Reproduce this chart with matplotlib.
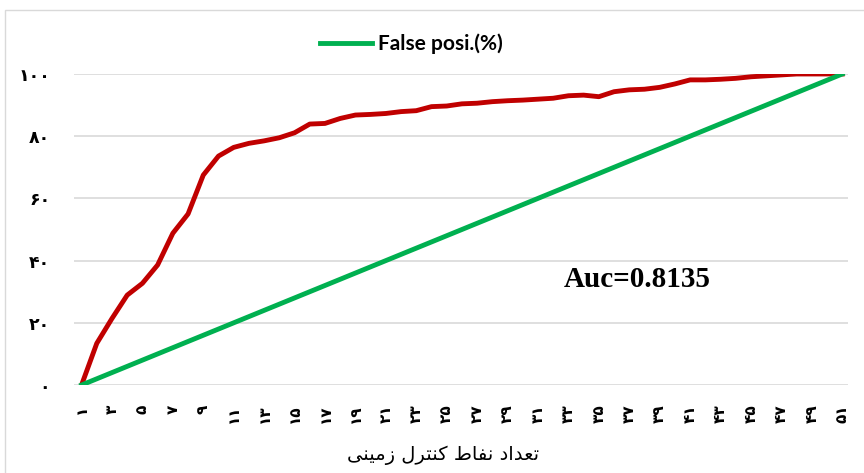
import matplotlib
matplotlib.use('Agg')
import matplotlib.pyplot as plt
from matplotlib.patches import Rectangle

# data
points = [1, 2, 3, 4, 5, 6, 7, 8, 9, 10, 11, 12, 13, 14, 15, 16, 17, 18, 19, 20,
          21, 22, 23, 24, 25, 26, 27, 28, 29, 30, 31, 32, 33, 34, 35, 36, 37, 38, 39, 40,
          41, 42, 43, 44, 45, 46, 47, 48, 49, 50, 51]
true_pos = [0, 13.4, 21.4, 28.9, 32.7, 38.6, 48.8, 55.0, 67.5, 73.6,
            76.4, 77.7, 78.5, 79.5, 81.1, 83.9, 84.1, 85.7, 86.8, 87.0,
            87.3, 87.9, 88.2, 89.5, 89.7, 90.4, 90.6, 91.1, 91.4, 91.6,
            91.9, 92.2, 93.0, 93.2, 92.7, 94.3, 94.9, 95.1, 95.7, 96.8,
            98.1, 98.1, 98.3, 98.6, 99.1, 99.4, 99.7, 100, 100, 100, 100]
false_pos = [0, 2, 4, 6, 8, 10, 12, 14, 16, 18, 20, 22, 24, 26, 28, 30, 32, 34, 36, 38,
             40, 42, 44, 46, 48, 50, 52, 54, 56, 58, 60, 62, 64, 66, 68, 70, 72, 74, 76, 78,
             80, 82, 84, 86, 88, 90, 92, 94, 96, 98, 100]

x_ticks = [1, 3, 5, 7, 9, 11, 13, 15, 17, 19, 21, 23, 25, 27, 29, 31, 33, 35, 37, 39,
           41, 43, 45, 47, 49, 51]
x_labels = ['۱', '۳', '۵', '۷', '۹', '۱۱', '۱۳', '۱۵', '۱۷', '۱۹', '۲۱', '۲۳', '۲۵',
            '۲۷', '۲۹', '۳۱', '۳۳', '۳۵', '۳۷', '۳۹', '۴۱', '۴۳', '۴۵', '۴۷', '۴۹', '۵۱']
y_ticks = [0, 20, 40, 60, 80, 100]
y_labels = ['۰', '۲۰', '۴۰', '۶۰', '۸۰', '۱۰۰']

# "تعداد نقاط کنترل زمینی" in presentation forms, reversed for left-to-right drawing
x_title = ('\uFE97\uFECC\uFEAA\uFE8D\uFEA9 \uFEE7\uFED4\uFE8E\uFEC1 '
           '\uFB90\uFEE8\uFE98\uFEAE\uFEDD \uFEAF\uFEE3\uFBFF\uFEE8\uFBFD')[::-1]

fig = plt.figure(figsize=(8.64, 4.73), dpi=100)
ax = fig.add_axes([0.0856, 0.186, 0.8954, 0.6576])

ax.plot(points, true_pos, color='#C00000', lw=3.5, solid_joinstyle='round')
ax.plot(points, false_pos, color='#00B050', lw=3.5, label='False posi.(%)')

ax.set_xlim(0.5, 51.35)
ax.set_ylim(0, 100)
ax.set_yticks(y_ticks)
ax.set_yticklabels(y_labels, fontsize=12.5, fontweight='bold', family=['DejaVu Sans'])
ax.set_xticks(x_ticks)
ax.set_xticklabels(x_labels, rotation=90, fontsize=11, fontweight='bold',
                   family=['DejaVu Sans'])
ax.tick_params(axis='both', length=0)
ax.tick_params(axis='x', pad=14)
ax.tick_params(axis='y', pad=17)
ax.grid(axis='y', color='#D9D9D9', lw=1.2)
ax.set_axisbelow(True)
for s in ax.spines.values():
    s.set_visible(False)

ax.set_xlabel(x_title, fontsize=14, family=['DejaVu Sans'])
ax.xaxis.set_label_coords(0.477, -0.195)

ax.text(37.5, 33.8, 'Auc=0.8135', fontsize=21, fontweight='bold',
        family=['Liberation Serif'], ha='center', va='center')

fig.legend(loc='center', bbox_to_anchor=(0.476, 0.907), frameon=False,
           handlelength=2.5, handletextpad=0.3,
           prop={'family': 'Lato', 'weight': 'bold', 'size': 15})

fig.patches.append(Rectangle((5 / 864, -0.1), 1.2, 1.1 - 10 / 473,
                             transform=fig.transFigure, fill=False,
                             edgecolor='#D9D9D9', lw=1))

fig.savefig('out.png', dpi=100)
